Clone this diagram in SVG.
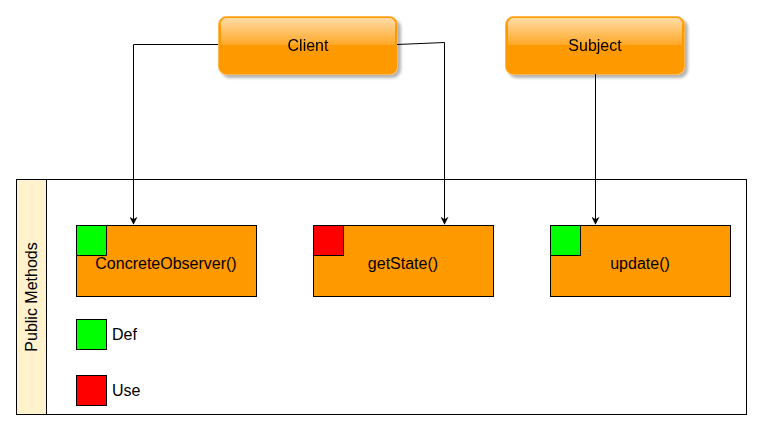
<svg xmlns="http://www.w3.org/2000/svg" width="762" height="430" viewBox="0 0 762 430">
<defs>
<style>
text{font-family:"Liberation Sans",Arial,sans-serif;font-size:16px;fill:#000}
.m{fill:#ff9900;stroke:#000;stroke-width:1}
.g{fill:#00ff00;stroke:#000;stroke-width:1}
.r{fill:#ff0000;stroke:#000;stroke-width:1}
.e{fill:none;stroke:#000;stroke-width:1}
.btn{fill:#ff9900;stroke:#ffb84d;stroke-width:1}
</style>
<linearGradient id="gl" x1="0" y1="0" x2="0" y2="1">
<stop offset="0" stop-color="#ffffff" stop-opacity="0.65"/>
<stop offset="1" stop-color="#ffffff" stop-opacity="0.15"/>
</linearGradient>
<filter id="sh" x="-10%" y="-10%" width="130%" height="140%">
<feGaussianBlur in="SourceAlpha" stdDeviation="1.5"/>
<feOffset dx="3" dy="3"/>
<feComponentTransfer><feFuncA type="linear" slope="0.3"/></feComponentTransfer>
<feMerge><feMergeNode/><feMergeNode in="SourceGraphic"/></feMerge>
</filter>
<marker id="ar" viewBox="0 0 10 10" refX="9" refY="5" markerWidth="8" markerHeight="8" markerUnits="userSpaceOnUse" orient="auto">
<path d="M0,0 L10,5 L0,10 L3,5 Z" fill="#000"/>
</marker>
</defs>
<g id="container">
<rect x="16.5" y="179.5" width="730" height="235" fill="#fff" stroke="#000"/>
<rect x="16.5" y="179.5" width="30" height="235" fill="#fff2cc" stroke="#000"/>
<text transform="translate(37,297) rotate(-90)" text-anchor="middle">Public Methods</text>
</g>
<g id="client" filter="url(#sh)">
<rect class="btn" x="218.5" y="16.5" width="179" height="58" rx="8"/>
<path d="M221,26 a6,6 0 0 1 6,-8 h162 a6,6 0 0 1 6,8 v19 h-174 Z" fill="url(#gl)"/>
<text x="308" y="51" text-anchor="middle">Client</text>
</g>
<g id="subject" filter="url(#sh)">
<rect class="btn" x="505.5" y="16.5" width="179" height="58" rx="8"/>
<path d="M508,26 a6,6 0 0 1 6,-8 h162 a6,6 0 0 1 6,8 v19 h-174 Z" fill="url(#gl)"/>
<text x="595" y="51" text-anchor="middle">Subject</text>
</g>
<g id="concreteObserver">
<rect class="m" x="76.5" y="225.5" width="180" height="71"/>
<rect class="g" x="76.5" y="225.5" width="30" height="30"/>
<text x="166" y="269" text-anchor="middle">ConcreteObserver()</text>
</g>
<g id="getState">
<rect class="m" x="313.5" y="225.5" width="180" height="71"/>
<rect class="r" x="313.5" y="225.5" width="30" height="30"/>
<text x="403" y="269" text-anchor="middle">getState()</text>
</g>
<g id="update">
<rect class="m" x="550.5" y="225.5" width="180" height="71"/>
<rect class="g" x="550.5" y="225.5" width="30" height="30"/>
<text x="640" y="269" text-anchor="middle">update()</text>
</g>
<g id="legendDef">
<rect class="g" x="76.5" y="319.5" width="30" height="30"/>
<text x="112" y="340">Def</text>
</g>
<g id="legendUse">
<rect class="r" x="76.5" y="375.5" width="30" height="30"/>
<text x="112" y="396">Use</text>
</g>
<g id="connectors">
<path class="e" d="M218,44.5 H133.5 V224" marker-end="url(#ar)"/>
<path class="e" d="M397,44.5 L444.5,42.5 V224" marker-end="url(#ar)"/>
<path class="e" d="M595.5,74 V224" marker-end="url(#ar)"/>
</g>
</svg>
